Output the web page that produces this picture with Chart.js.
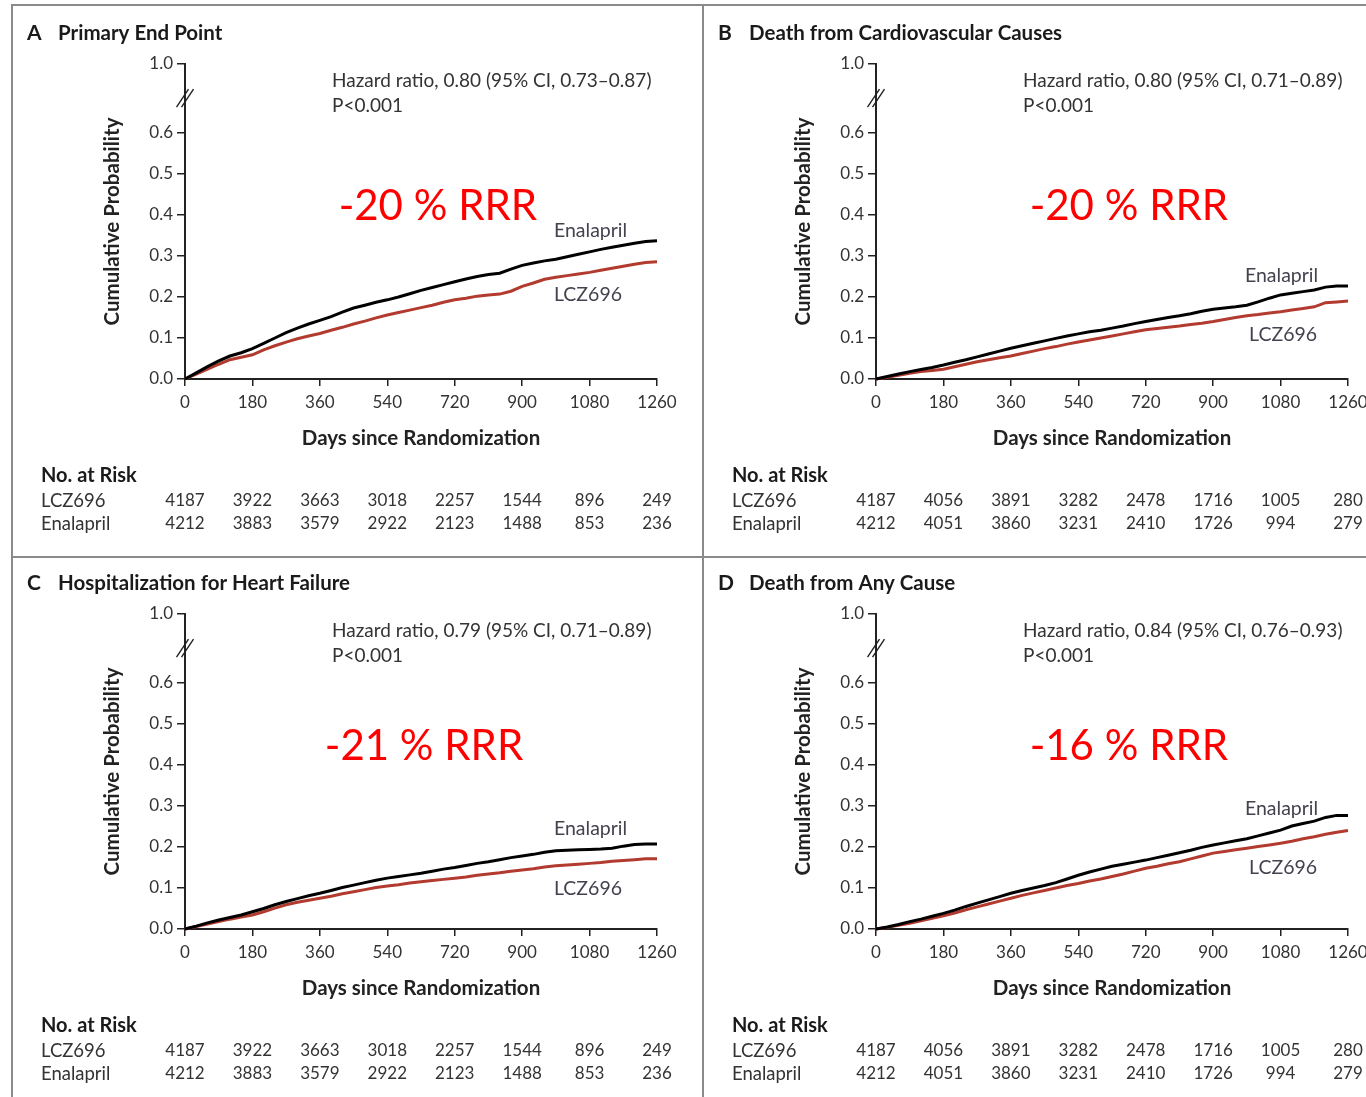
<!DOCTYPE html>
<html>
<head>
<meta charset="utf-8">
<script src="https://cdn.jsdelivr.net/npm/chart.js@4.4.1/dist/chart.umd.min.js"></script>
<style>
  html, body { margin: 0; padding: 0; background: #fff; overflow: hidden; width: 1366px; height: 1097px; }
  .panel { position: absolute; width: 691px; height: 550px; }
  .rule { position: absolute; background: #8a8a8a; z-index: 2; }
</style>
</head>
<body>
<canvas id="panelA" class="panel" width="691" height="550" style="left:12px;top:5px"></canvas>
<canvas id="panelB" class="panel" width="691" height="550" style="left:703px;top:5px"></canvas>
<canvas id="panelC" class="panel" width="691" height="550" style="left:12px;top:555px"></canvas>
<canvas id="panelD" class="panel" width="691" height="550" style="left:703px;top:555px"></canvas>
<div class="rule" style="left:11px;top:4px;width:1355px;height:2px"></div>
<div class="rule" style="left:11px;top:4px;width:2px;height:1093px"></div>
<div class="rule" style="left:702px;top:4px;width:2px;height:1093px"></div>
<div class="rule" style="left:11px;top:556px;width:1355px;height:2px"></div>
<script>
// Days since randomization at which each cumulative curve is sampled
const days = [0, 30, 60, 90, 120, 150, 180, 210, 240, 270, 300, 330, 360, 390, 420, 450, 480, 510, 540, 570, 600,
  630, 660, 690, 720, 750, 780, 810, 840, 870, 900, 930, 960, 990, 1020, 1050, 1080, 1110, 1140, 1170, 1200, 1230, 1260];

// A  Primary end point
const primaryEnalapril = [0, 0.015, 0.030, 0.044, 0.056, 0.064, 0.074, 0.087, 0.100, 0.113, 0.124, 0.134, 0.143, 0.152, 0.163,
  0.173, 0.180, 0.187, 0.193, 0.200, 0.208, 0.216, 0.223, 0.230, 0.237, 0.244, 0.250, 0.255, 0.258, 0.268, 0.277, 0.283,
  0.288, 0.292, 0.298, 0.304, 0.310, 0.316, 0.321, 0.326, 0.331, 0.335, 0.337];
const primaryLcz696 = [0, 0.012, 0.024, 0.036, 0.047, 0.053, 0.059, 0.071, 0.081, 0.090, 0.098, 0.105, 0.111, 0.119, 0.126,
  0.134, 0.141, 0.149, 0.156, 0.162, 0.168, 0.174, 0.180, 0.187, 0.193, 0.197, 0.202, 0.205, 0.207, 0.214, 0.226, 0.234,
  0.243, 0.248, 0.252, 0.256, 0.260, 0.265, 0.270, 0.275, 0.280, 0.284, 0.286];

// B  Death from cardiovascular causes
const cvDeathEnalapril = [0, 0.006, 0.012, 0.018, 0.023, 0.028, 0.034, 0.041, 0.047, 0.054, 0.061, 0.068, 0.075, 0.081, 0.087,
  0.093, 0.099, 0.105, 0.110, 0.115, 0.119, 0.124, 0.129, 0.135, 0.140, 0.145, 0.150, 0.154, 0.159, 0.165, 0.170, 0.173,
  0.176, 0.180, 0.188, 0.197, 0.205, 0.209, 0.213, 0.217, 0.224, 0.227, 0.227];
const cvDeathLcz696 = [0, 0.004, 0.009, 0.014, 0.018, 0.021, 0.024, 0.030, 0.036, 0.042, 0.047, 0.052, 0.056, 0.062, 0.068,
  0.074, 0.079, 0.085, 0.090, 0.095, 0.100, 0.105, 0.110, 0.115, 0.120, 0.123, 0.126, 0.129, 0.133, 0.136, 0.140, 0.145,
  0.150, 0.154, 0.157, 0.161, 0.164, 0.168, 0.172, 0.176, 0.186, 0.188, 0.190];

// C  Hospitalization for heart failure
const hfHospEnalapril = [0, 0.007, 0.015, 0.022, 0.028, 0.034, 0.042, 0.050, 0.059, 0.067, 0.074, 0.081, 0.087, 0.094, 0.101,
  0.107, 0.113, 0.119, 0.124, 0.128, 0.132, 0.136, 0.141, 0.146, 0.150, 0.155, 0.160, 0.164, 0.169, 0.174, 0.178, 0.182,
  0.187, 0.191, 0.192, 0.193, 0.194, 0.195, 0.197, 0.202, 0.206, 0.207, 0.207];
const hfHospLcz696 = [0, 0.006, 0.012, 0.018, 0.024, 0.029, 0.034, 0.042, 0.051, 0.059, 0.065, 0.070, 0.075, 0.080, 0.086,
  0.091, 0.096, 0.101, 0.105, 0.108, 0.112, 0.115, 0.118, 0.121, 0.124, 0.127, 0.131, 0.134, 0.137, 0.141, 0.144, 0.147,
  0.151, 0.154, 0.156, 0.158, 0.160, 0.162, 0.165, 0.167, 0.169, 0.171, 0.171];

// D  Death from any cause
const anyDeathEnalapril = [0, 0.005, 0.011, 0.018, 0.024, 0.031, 0.038, 0.046, 0.055, 0.063, 0.071, 0.079, 0.087, 0.094, 0.100,
  0.106, 0.113, 0.122, 0.131, 0.139, 0.146, 0.153, 0.158, 0.163, 0.168, 0.174, 0.180, 0.186, 0.192, 0.199, 0.205, 0.210,
  0.215, 0.220, 0.227, 0.234, 0.241, 0.251, 0.257, 0.263, 0.272, 0.277, 0.277];
const anyDeathLcz696 = [0, 0.004, 0.009, 0.014, 0.020, 0.026, 0.032, 0.039, 0.047, 0.054, 0.061, 0.068, 0.075, 0.082, 0.088,
  0.094, 0.100, 0.106, 0.111, 0.117, 0.122, 0.128, 0.134, 0.141, 0.148, 0.153, 0.159, 0.164, 0.171, 0.178, 0.185, 0.189,
  0.193, 0.197, 0.201, 0.205, 0.209, 0.214, 0.220, 0.225, 0.231, 0.236, 0.240];

// Tick labels
const xTicks = [0, 180, 360, 540, 720, 900, 1080, 1260];
const yTicks = [0, 0.1, 0.2, 0.3, 0.4, 0.5, 0.6];
const yTopLabel = '1.0';

// Numbers at risk at each x tick
const riskLcz696AC = [4187, 3922, 3663, 3018, 2257, 1544, 896, 249];
const riskEnalaprilAC = [4212, 3883, 3579, 2922, 2123, 1488, 853, 236];
const riskLcz696BD = [4187, 4056, 3891, 3282, 2478, 1716, 1005, 280];
const riskEnalaprilBD = [4212, 4051, 3860, 3231, 2410, 1726, 994, 279];

// Axis layout: the scale runs 0-0.6, then a broken segment up to the "1.0" tick
const Y_TOP = 0.768;
const Y_BREAK = 0.685;

const TEXT_FONT = 'Lato, "Liberation Sans", sans-serif';
const ENALAPRIL_COLOR = '#000000';
const LCZ_COLOR = '#b23a2e';

const panels = [
  { id: 'panelA', letter: 'A', title: 'Primary End Point', hazard: 'Hazard ratio, 0.80 (95% CI, 0.73\u20130.87)',
    pValue: 'P<0.001', rrr: '-20 % RRR', rrrAt: [675, 0.42],
    enalapril: primaryEnalapril, lcz: primaryLcz696, enaLabelAt: [985, 0.361], lczLabelAt: [985, 0.205],
    riskLcz: riskLcz696AC, riskEna: riskEnalaprilAC },
  { id: 'panelB', letter: 'B', title: 'Death from Cardiovascular Causes', hazard: 'Hazard ratio, 0.80 (95% CI, 0.71\u20130.89)',
    pValue: 'P<0.001', rrr: '-20 % RRR', rrrAt: [675, 0.42],
    enalapril: cvDeathEnalapril, lcz: cvDeathLcz696, enaLabelAt: [985, 0.251], lczLabelAt: [996, 0.107],
    riskLcz: riskLcz696BD, riskEna: riskEnalaprilBD },
  { id: 'panelC', letter: 'C', title: 'Hospitalization for Heart Failure', hazard: 'Hazard ratio, 0.79 (95% CI, 0.71\u20130.89)',
    pValue: 'P<0.001', rrr: '-21 % RRR', rrrAt: [638, 0.446],
    enalapril: hfHospEnalapril, lcz: hfHospLcz696, enaLabelAt: [985, 0.244], lczLabelAt: [985, 0.098],
    riskLcz: riskLcz696AC, riskEna: riskEnalaprilAC },
  { id: 'panelD', letter: 'D', title: 'Death from Any Cause', hazard: 'Hazard ratio, 0.84 (95% CI, 0.76\u20130.93)',
    pValue: 'P<0.001', rrr: '-16 % RRR', rrrAt: [675, 0.446],
    enalapril: anyDeathEnalapril, lcz: anyDeathLcz696, enaLabelAt: [985, 0.293], lczLabelAt: [996, 0.149],
    riskLcz: riskLcz696BD, riskEna: riskEnalaprilBD }
];

// Heading, hazard ratio, axis break, curve labels, RRR note and the at-risk table
const panelDecor = {
  id: 'panelDecor',
  afterDraw(chart, args, o) {
    const ctx = chart.ctx, xs = chart.scales.x, ys = chart.scales.y, a = chart.chartArea;
    ctx.save();
    ctx.textBaseline = 'middle';
    ctx.textAlign = 'left';

    ctx.fillStyle = '#1a1a1a';
    ctx.font = 'bold 21px ' + TEXT_FONT;
    ctx.fillText(o.letter, 15, 28);
    ctx.font = 'bold 20.5px ' + TEXT_FONT;
    ctx.fillText(o.title, 46, 28);

    ctx.fillStyle = '#333';
    ctx.font = '19px ' + TEXT_FONT;
    ctx.fillText(o.hazard, a.left + 147, a.top + 17);
    ctx.fillText(o.pValue, a.left + 147, a.top + 42);

    // axis break marks
    const bx = a.left, by = ys.getPixelForValue(Y_BREAK);
    ctx.strokeStyle = '#222';
    ctx.lineWidth = 1.4;
    for (const d of [-2.5, 2.5]) {
      ctx.beginPath();
      ctx.moveTo(bx - 6 + d, by + 9);
      ctx.lineTo(bx + 6 + d, by - 9);
      ctx.stroke();
    }

    // curve labels
    ctx.fillStyle = '#45424f';
    ctx.font = '19.5px ' + TEXT_FONT;
    ctx.fillText('Enalapril', xs.getPixelForValue(o.enaLabelAt[0]), ys.getPixelForValue(o.enaLabelAt[1]));
    ctx.fillText('LCZ696', xs.getPixelForValue(o.lczLabelAt[0]), ys.getPixelForValue(o.lczLabelAt[1]));

    // relative risk reduction note
    ctx.fillStyle = '#ff0000';
    ctx.textAlign = 'center';
    ctx.font = '42px ' + TEXT_FONT;
    ctx.fillText(o.rrr, xs.getPixelForValue(o.rrrAt[0]), ys.getPixelForValue(o.rrrAt[1]));

    // number at risk
    ctx.textAlign = 'left';
    ctx.fillStyle = '#1a1a1a';
    ctx.font = 'bold 20px ' + TEXT_FONT;
    ctx.fillText('No. at Risk', 29, 471);
    ctx.fillStyle = '#333';
    ctx.font = '18.5px ' + TEXT_FONT;
    ctx.fillText('LCZ696', 29, 496);
    ctx.fillText('Enalapril', 29, 519);
    ctx.font = '17px ' + TEXT_FONT;
    ctx.textAlign = 'center';
    xTicks.forEach((d, i) => {
      const px = xs.getPixelForValue(d);
      ctx.fillText(String(o.riskLcz[i]), px, 496);
      ctx.fillText(String(o.riskEna[i]), px, 519);
    });
    ctx.restore();
  }
};

function toPoints(values) {
  return days.map((d, i) => ({ x: d, y: values[i] }));
}

panels.forEach(p => {
  new Chart(document.getElementById(p.id), {
    type: 'line',
    data: {
      datasets: [
        { label: 'Enalapril', data: toPoints(p.enalapril), borderColor: ENALAPRIL_COLOR, borderWidth: 3,
          pointRadius: 0, tension: 0, clip: false },
        { label: 'LCZ696', data: toPoints(p.lcz), borderColor: LCZ_COLOR, borderWidth: 3,
          pointRadius: 0, tension: 0, clip: false }
      ]
    },
    options: {
      responsive: false,
      animation: false,
      events: [],
      layout: { padding: { left: 88, top: 59, right: 46, bottom: 104.2 } },
      plugins: {
        legend: { display: false },
        tooltip: { enabled: false },
        panelDecor: p
      },
      scales: {
        x: {
          type: 'linear', min: 0, max: 1260,
          afterBuildTicks: s => { s.ticks = xTicks.map(v => ({ value: v })); },
          afterFit: s => { s.height = 71.8; },
          ticks: { autoSkip: false, maxRotation: 0, padding: 6, color: '#333',
                   font: { family: TEXT_FONT, size: 17 }, callback: v => String(v) },
          grid: { display: true, drawOnChartArea: false, drawTicks: true, tickLength: 7, color: '#222', lineWidth: 1.5 },
          border: { display: true, color: '#222', width: 2 },
          title: { display: true, text: 'Days since Randomization', color: '#222', padding: 0,
                   font: { family: TEXT_FONT, size: 20.5, weight: 'bold' } }
        },
        y: {
          type: 'linear', min: 0, max: Y_TOP,
          afterBuildTicks: s => { s.ticks = yTicks.concat([Y_TOP]).map(v => ({ value: v })); },
          afterFit: s => { s.width = 85; },
          ticks: { autoSkip: false, padding: 4, color: '#333', font: { family: TEXT_FONT, size: 17 },
                   callback: v => (v > 0.65 ? yTopLabel : v.toFixed(1)) },
          grid: { display: true, drawOnChartArea: false, drawTicks: true, tickLength: 8, color: '#222', lineWidth: 1.5 },
          border: { display: true, color: '#222', width: 2 },
          title: { display: true, text: 'Cumulative Probability', color: '#222', padding: 0,
                   font: { family: TEXT_FONT, size: 20.5, weight: 'bold' } }
        }
      }
    },
    plugins: [panelDecor]
  });
});
</script>
</body>
</html>
